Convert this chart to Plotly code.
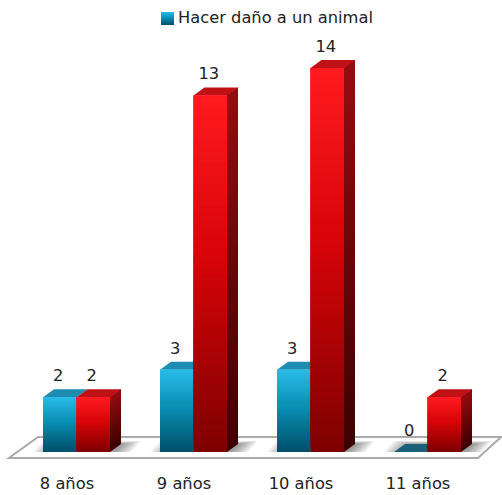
import plotly.graph_objects as go

categories = ["8 años", "9 años", "10 años", "11 años"]
harm_values = [2, 3, 3, 0]
other_values = [2, 13, 14, 2]
legend_label = "Hacer daño a un animal"

W, H = 502, 495
MB = 27
PX_X = 117.0      # pixels per category
PX_Y = 27.43      # pixels per unit
X0_PX, Y0_PX = 76.5, 452.0
BAR_W = 33.5 / PX_X
DX, DY = 11 / PX_X, 8 / PX_Y
SLICES = 48
FONT = "DejaVu Sans"
TEXT = "#222222"
FONT_SIZE = 16.3


def mix(a, b, t):
    return "#%02x%02x%02x" % tuple(round(a[i] + (b[i] - a[i]) * t) for i in range(3))


def ramp(stops, t):
    for (t0, c0), (t1, c1) in zip(stops, stops[1:]):
        if t <= t1:
            return mix(c0, c1, (t - t0) / (t1 - t0))
    return mix(stops[-1][1], stops[-1][1], 0)


BLUE = [(0, (0, 78, 104)), (0.55, (10, 143, 181)), (1, (41, 187, 230))]
RED = [(0, (125, 0, 0)), (0.55, (215, 4, 8)), (1, (255, 27, 32))]
RED_SIDE = [(0, (60, 0, 0)), (1, (150, 12, 16))]


def poly(pts):
    return "M" + " L".join(f"{x:.4f},{y:.4f}" for x, y in pts) + " Z"


def px_x(p):
    return (p - X0_PX) / PX_X


def px_y(p):
    return (Y0_PX - p) / PX_Y


def front_trace(values, offset, stops):
    xs, bases, ys, colors = [], [], [], []
    for i, v in enumerate(values):
        for k in range(SLICES if v else 0):
            base = v * k / SLICES
            xs.append(i)
            bases.append(base)
            ys.append(min(v - base, 3 * v / SLICES))
            colors.append(ramp(stops, (k + 0.5) / SLICES))
    return go.Bar(x=xs, y=ys, base=bases, width=BAR_W, offset=offset,
                  marker=dict(color=colors, line=dict(width=0)),
                  showlegend=False, hoverinfo="skip")


shapes = []
# floor
shapes.append(dict(type="path", layer="below", xref="x", yref="y",
                   path=poly([(px_x(9), px_y(458)), (px_x(478), px_y(458)),
                              (px_x(501), px_y(437)), (px_x(38), px_y(437))]),
                   fillcolor="white", line=dict(color="#aaaaaa", width=2)))
# soft shadows
for i in range(len(categories)):
    left, right = i - BAR_W, i + BAR_W + DX
    for k in range(10):
        t = k * 2.0 / PX_X
        low, high = px_y(452), px_y(441 + k * 0.35)
        shapes.append(dict(type="path", layer="below", xref="x", yref="y",
                           path=poly([(left - 10 / PX_X + t, low), (right + 10 / PX_X - t, low),
                                      (right + 20 / PX_X - t, high), (left + t, high)]),
                           fillcolor="rgba(70,70,70,0.07)", line=dict(width=0)))
# tops
for i, v in enumerate(harm_values):
    x0, x1 = i - BAR_W, i
    shapes.append(dict(type="path", layer="below", xref="x", yref="y",
                       path=poly([(x0, v), (x1, v), (x1 + DX, v + DY), (x0 + DX, v + DY)]),
                       fillcolor="#1e8bb0" if v else "#1a6078", line=dict(width=0)))
for i, v in enumerate(other_values):
    x0, x1 = i, i + BAR_W
    shapes.append(dict(type="path", layer="below", xref="x", yref="y",
                       path=poly([(x0, v), (x1, v), (x1 + DX, v + DY), (x0 + DX, v + DY)]),
                       fillcolor="#c01216", line=dict(width=0)))
    # right-hand faces, each slice running under the next to hide seams
    for k in range(SLICES):
        a, b = v * k / SLICES, min(v, v * (k + 3) / SLICES)
        shapes.append(dict(type="path", layer="above", xref="x", yref="y",
                           path=poly([(x1, a), (x1 + DX, a + DY), (x1 + DX, b + DY), (x1, b)]),
                           fillcolor=ramp(RED_SIDE, (k + 0.5) / SLICES), line=dict(width=0)))
# legend swatch
SW_X, SW_Y, SW_S = 161, 12, 13
for k in range(SW_S):
    shapes.append(dict(type="rect", layer="above", xref="paper", yref="paper",
                       x0=SW_X / W, x1=(SW_X + SW_S) / W,
                       y0=1 - (SW_Y + k + 1) / (H - MB), y1=1 - (SW_Y + k) / (H - MB),
                       fillcolor=ramp(BLUE, 1 - (k + 0.5) / SW_S), line=dict(width=0)))

fig = go.Figure()
fig.add_trace(front_trace(harm_values, -BAR_W, BLUE))
fig.add_trace(front_trace(other_values, 0, RED))

lift = 12 / PX_Y
nudge = 1.5 / PX_X
fig.add_trace(go.Scatter(
    x=[i - BAR_W / 2 - nudge for i in range(len(categories))] + [i + BAR_W / 2 - nudge for i in range(len(categories))],
    y=[v + lift for v in harm_values] + [v + lift for v in other_values],
    text=[str(v) for v in harm_values + other_values],
    mode="text", textposition="top center",
    textfont=dict(family=FONT, size=FONT_SIZE, color=TEXT),
    showlegend=False, hoverinfo="skip"))

fig.add_trace(go.Scatter(
    x=[None], y=[None], name=legend_label, mode="markers",
    marker=dict(symbol="square", size=13, color="rgba(0,0,0,0)")))

fig.update_layout(
    width=W, height=H, autosize=False,
    margin=dict(l=0, r=0, t=0, b=MB),
    paper_bgcolor="white", plot_bgcolor="white",
    barmode="overlay", shapes=shapes,
    showlegend=True,
    legend=dict(x=138 / W, y=1.0, xanchor="left", yanchor="top",
                font=dict(family=FONT, size=FONT_SIZE, color=TEXT), bgcolor="rgba(0,0,0,0)",
                itemwidth=30),
    font=dict(family=FONT),
)
fig.update_xaxes(range=[px_x(0), px_x(W)], showgrid=False, zeroline=False, showline=False,
                 tickmode="array", tickvals=[i - 9.5 / PX_X for i in range(len(categories))],
                 ticktext=categories, ticks="", ticklabelstandoff=4,
                 tickfont=dict(family=FONT, size=FONT_SIZE, color=TEXT))
fig.update_yaxes(range=[px_y(H - MB), px_y(0)], visible=False)

fig.write_html("out.html", config=dict(displayModeBar=False),
               post_script="document.body.style.margin='0';document.documentElement.style.overflow='hidden';")
